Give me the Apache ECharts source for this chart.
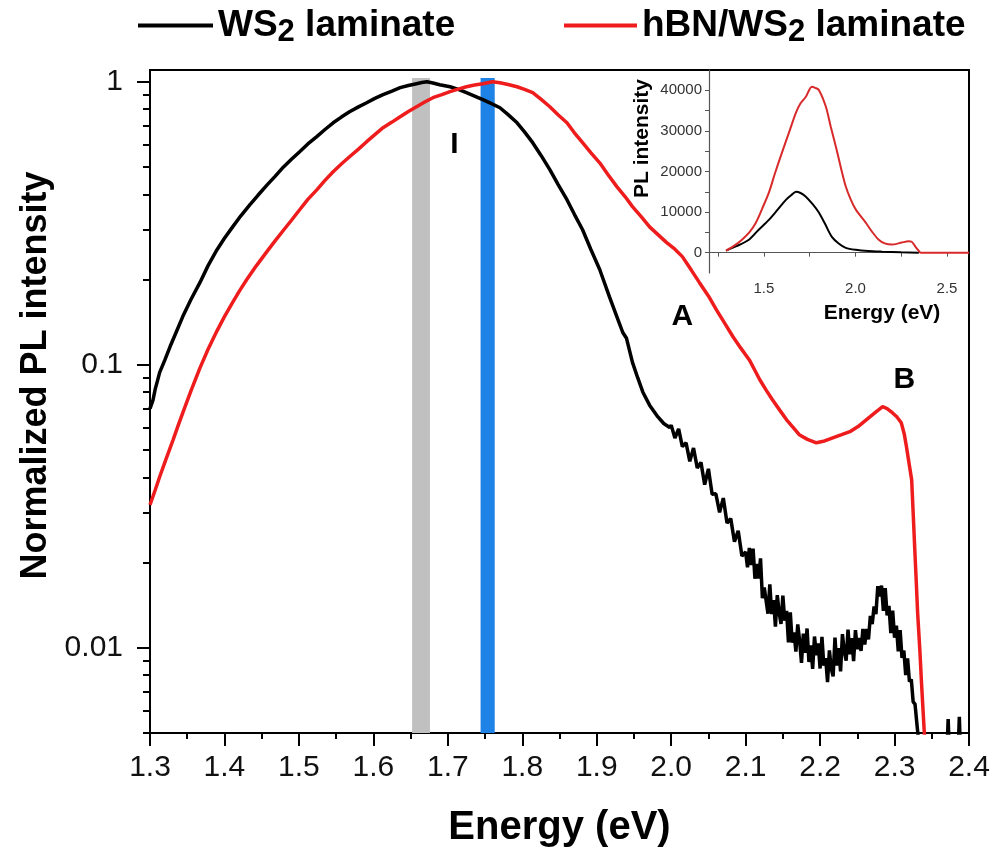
<!DOCTYPE html>
<html>
<head>
<meta charset="utf-8">
<script src="https://cdn.jsdelivr.net/npm/echarts@6/dist/echarts.min.js"></script>
<style>
  html, body { margin: 0; padding: 0; background: #fff; }
  #main { width: 996px; height: 857px; }
</style>
</head>
<body>
<div id="main"></div>
<script>
// main plot, WS2 laminate (black)
var wsE = [1.300,1.304,1.307,1.310,1.313,1.320,1.327,1.335,1.344,1.355,1.367,1.378,1.390,1.400,1.411,1.422,1.434,1.445,1.457,1.468,
  1.479,1.490,1.501,1.512,1.524,1.535,1.546,1.557,1.568,1.580,1.591,1.602,1.613,1.625,1.636,1.647,1.658,1.665,1.672,1.680,
  1.689,1.703,1.714,1.725,1.736,1.747,1.758,1.770,1.781,1.793,1.803,1.814,1.825,1.837,1.848,1.860,1.870,1.881,1.892,1.904,
  1.917,1.927,1.935,1.940,1.948,1.955,1.962,1.971,1.981,1.990,1.998,
  2.000,2.005,2.010,2.015,2.020,2.025,2.030,2.035,2.040,2.045,2.050,2.055,2.060,2.065,2.070,2.075,2.080,2.085,2.090,2.095,2.100,
  2.1025,2.105,2.1075,2.110,2.1125,2.115,2.1175,2.120,2.1225,2.125,2.1275,2.130,2.1325,2.135,2.1375,2.140,2.1425,2.145,2.1475,2.150,
  2.1525,2.155,2.1575,2.160,2.1625,2.165,2.1675,2.170,2.1725,2.175,2.1775,2.180,2.1825,2.185,2.1875,2.190,2.1925,2.195,2.1975,2.200,
  2.2025,2.205,2.2075,2.210,2.2125,2.215,2.2175,2.220,2.2225,2.225,2.2275,2.230,2.2325,2.235,2.2375,2.240,2.2425,2.245,2.2475,2.250,
  2.2525,2.255,2.2575,2.260,2.2625,2.265,2.2675,2.270,2.2725,2.275,2.2775,2.280,2.2825,2.285,2.2875,2.290,2.2925,2.295,2.2975,2.300,
  2.3025,2.305,2.3075,2.310,2.3125,2.315,2.3175,2.320,2.3225,2.325,2.3275,2.330,2.333,2.336,
  2.370,2.372,2.374,2.385,2.387,2.389,2.400];
var wsI = [0.070,0.075,0.082,0.0877,0.094,0.104,0.116,0.130,0.148,0.170,0.195,0.224,0.255,0.280,0.307,0.336,0.367,0.397,0.431,0.463,
  0.499,0.532,0.566,0.603,0.640,0.678,0.716,0.750,0.783,0.815,0.843,0.873,0.900,0.927,0.953,0.970,0.984,0.993,1.000,0.990,
  0.976,0.960,0.940,0.915,0.890,0.864,0.838,0.809,0.765,0.716,0.665,0.609,0.550,0.489,0.434,0.383,0.340,0.300,0.256,0.217,
  0.174,0.148,0.130,0.124,0.102,0.090,0.080,0.072,0.066,0.062,0.060,
  0.0612,0.0551,0.0594,0.0514,0.0530,0.0456,0.0508,0.0432,0.0452,0.0377,0.0429,0.0349,0.0350,0.0301,0.0338,0.0276,0.0286,0.0237,0.0259,0.0211,0.0218,
  0.01925,0.02255,0.01959,0.0224,0.01755,0.01976,0.01758,0.0207,0.01496,0.01632,0.01657,0.0132,0.01676,0.01316,0.01473,0.01187,0.01534,0.01333,0.01215,0.01528,
  0.01248,0.0135,0.01044,0.01334,0.01042,0.01133,0.0097,0.0121,0.0106,0.00884,0.01122,0.0096,0.0117,0.00891,0.01019,0.00843,0.01096,0.00941,0.01037,0.00845,
  0.01093,0.00865,0.0092,0.00756,0.00979,0.00845,0.00792,0.01086,0.00865,0.00998,0.00826,0.01117,0.0097,0.0090,0.0116,0.00949,0.01081,0.00898,0.01154,0.00988,
  0.01082,0.00975,0.01166,0.01027,0.01166,0.0107,0.01296,0.01213,0.01399,0.01316,0.0165,0.0152,0.01659,0.0135,0.01624,0.01302,0.01407,0.01126,0.01353,0.01086,
  0.01198,0.00972,0.01154,0.00921,0.00978,0.00801,0.00918,0.0076,0.00773,0.00644,0.00632,0.00539,0.0045,0.0040,
  0.0040,0.0056,0.0040,0.0040,0.0057,0.0040,0.0040];

// main plot, hBN/WS2 laminate (red)
var hbnE = [1.300,1.307,1.313,1.322,1.331,1.338,1.344,1.355,1.367,1.378,1.390,1.400,1.411,1.420,1.430,1.443,1.457,1.468,1.479,1.490,
  1.501,1.512,1.524,1.535,1.546,1.557,1.568,1.580,1.591,1.602,1.613,1.625,1.636,1.647,1.658,1.669,1.680,1.692,1.703,1.714,
  1.725,1.736,1.747,1.760,1.770,1.781,1.793,1.803,1.814,1.825,1.837,1.848,1.860,1.870,1.881,1.892,1.904,1.915,1.927,1.938,
  1.948,1.960,1.971,1.983,1.994,2.005,2.015,2.027,2.038,2.050,2.061,2.072,2.083,2.094,2.105,2.112,2.119,2.128,2.136,2.146,
  2.155,2.164,2.172,2.183,2.195,2.206,2.217,2.228,2.240,2.251,2.262,2.273,2.284,2.290,2.297,2.303,2.309,2.313,2.316,2.320,
  2.323,2.325,2.327,2.329,2.331,2.334,2.336,2.338,2.340,2.343];
var hbnI = [0.032,0.0361,0.0402,0.0468,0.0543,0.0612,0.0676,0.0809,0.0973,0.1135,0.1318,0.148,0.166,0.182,0.200,0.224,0.251,0.274,0.298,0.324,
  0.353,0.384,0.415,0.448,0.481,0.512,0.543,0.578,0.614,0.650,0.688,0.720,0.752,0.785,0.816,0.848,0.878,0.900,0.922,0.942,
  0.960,0.973,0.984,1.000,0.992,0.978,0.960,0.940,0.915,0.868,0.816,0.764,0.716,0.660,0.609,0.562,0.517,0.470,0.426,0.393,
  0.362,0.333,0.307,0.287,0.270,0.256,0.241,0.216,0.195,0.175,0.156,0.140,0.1256,0.114,0.104,0.096,0.0885,0.081,0.0752,0.069,
  0.0639,0.060,0.0566,0.0545,0.0530,0.0538,0.0552,0.0565,0.0580,0.0605,0.0639,0.0675,0.0711,0.0700,0.0677,0.0655,0.0624,0.0570,0.0513,0.0440,
  0.0392,0.0300,0.0228,0.0175,0.0133,0.0098,0.0077,0.0062,0.0050,0.0040];

// inset, linear PL intensity
var insWsE = [1.293,1.35,1.418,1.47,1.527,1.575,1.62,1.65,1.675,1.70,1.729,1.765,1.800,1.835,1.871,1.91,1.947,2.002,2.07,2.146,2.25,2.346];
var insWsI = [500,1600,3200,5600,8100,10600,13000,14200,15000,14700,13800,12000,9900,7000,3900,2200,1200,700,400,250,100,0];
var insHbnE = [1.293,1.34,1.38,1.42,1.456,1.49,1.527,1.56,1.598,1.64,1.675,1.70,1.729,1.762,1.780,1.800,1.838,1.865,1.893,1.92,
  1.947,1.975,2.002,2.056,2.09,2.127,2.16,2.198,2.253,2.290,2.307,2.327,2.345,2.357,2.62];
var insHbnI = [500,1800,3200,5000,7400,10800,14800,19500,24600,30000,34500,36800,38400,40900,40600,40100,36000,31000,26100,21000,
  16300,13000,10600,7400,5200,3200,2300,2000,2500,2800,2700,1500,500,0,0];

// highlighted energies (gray and blue bands) and peak labels
var grayBand = [1.652, 1.676];
var blueBand = [1.744, 1.763];
var peakNames = ['I', 'A', 'B'];
var peakPos = [[1.709, 0.60], [2.015, 0.148], [2.313, 0.0885]];

// tick values
var yMajor = [0.01, 0.1, 1];
var yMinor = [0.005,0.006,0.007,0.008,0.009,0.02,0.03,0.04,0.05,0.06,0.07,0.08,0.09,0.2,0.3,0.4,0.5,0.6,0.7,0.8,0.9];
var insXLabels = [1.5, 2.0, 2.5];
var insXTicks = [1.25, 1.5, 1.75, 2.0, 2.25, 2.5];
var insYLabels = [0, 10000, 20000, 30000, 40000];
var insYTicks = [0, 5000, 10000, 15000, 20000, 25000, 30000, 35000, 40000];

function zip(a, b) {
  var out = [];
  for (var i = 0; i < a.length; i++) out.push([a[i], b[i]]);
  return out;
}

var FONT = 'Liberation Sans, Arial, sans-serif';
var myChart = echarts.init(document.getElementById('main'));

var legendRich = {
  b: { fontSize: 37, fontWeight: 'bold', fontFamily: FONT, color: '#000' },
  s: { fontSize: 31, fontWeight: 'bold', fontFamily: FONT, color: '#000', verticalAlign: 'top', padding: [14, 0, 0, 0] }
};
function legendFmt(name) {
  if (name === 'WS2 laminate') return '{b|WS}{s|2}{b| laminate}';
  return '{b|hBN/WS}{s|2}{b| laminate}';
}

myChart.setOption({
  animation: false,
  backgroundColor: '#fff',
  legend: [{
    data: ['WS2 laminate'], left: 133, top: 2, icon: 'rect', itemWidth: 75, itemHeight: 4,
    formatter: legendFmt, textStyle: { rich: legendRich }
  }, {
    data: ['hBN/WS2 laminate'], left: 559, top: 2, icon: 'rect', itemWidth: 73, itemHeight: 4,
    formatter: legendFmt, textStyle: { rich: legendRich }
  }],
  grid: [
    { left: 150, right: 27, top: 70, bottom: 124, show: true, borderColor: '#000', borderWidth: 2 },
    { left: 709, right: 27, top: 70, bottom: 584 }
  ],
  xAxis: [{
    type: 'value', gridIndex: 0, min: 1.3, max: 2.4, interval: 0.1,
    axisLine: { lineStyle: { color: '#000', width: 2 } },
    axisTick: { length: 13, lineStyle: { color: '#000', width: 2 } },
    minorTick: { show: true, splitNumber: 2, length: 6, lineStyle: { color: '#000', width: 2 } },
    splitLine: { show: false },
    axisLabel: { fontSize: 30, color: '#111', margin: 20, fontFamily: FONT,
      formatter: function (v) { return v.toFixed(1); } },
    name: 'Energy (eV)', nameLocation: 'middle', nameGap: 75,
    nameTextStyle: { fontSize: 40, fontWeight: 'bold', color: '#000', fontFamily: FONT }
  }, {
    type: 'value', gridIndex: 1, min: 1.2, max: 2.62,
    axisLine: { lineStyle: { color: '#555', width: 1.2 } },
    axisTick: { customValues: insXTicks, length: 4, lineStyle: { color: '#555' } },
    splitLine: { show: false },
    axisLabel: { customValues: insXLabels, fontSize: 15, color: '#333', margin: 8, fontFamily: FONT,
      formatter: function (v) { return v.toFixed(1); } },
    name: 'Energy (eV)', nameLocation: 'middle', nameGap: 30,
    nameTextStyle: { fontSize: 21, fontWeight: 'bold', color: '#000', fontFamily: FONT, padding: [0, 0, 0, 86] }
  }],
  yAxis: [{
    type: 'log', logBase: 10, gridIndex: 0, min: 0.005, max: 1.1, position: 'left',
    axisLine: { show: true, lineStyle: { color: '#000', width: 2 } },
    axisTick: { show: true, customValues: yMajor, length: 13, lineStyle: { color: '#000', width: 2 } },
    splitLine: { show: false },
    axisLabel: { customValues: yMajor, fontSize: 30, color: '#111', margin: 27, fontFamily: FONT,
      formatter: function (v) { return String(+(+v).toPrecision(3)); } },
    name: 'Normalized PL intensity', nameLocation: 'middle', nameGap: 93,
    nameTextStyle: { fontSize: 36, fontWeight: 'bold', color: '#000', fontFamily: FONT, padding: [0, 0, 0, 52] }
  }, {
    type: 'log', logBase: 10, gridIndex: 0, min: 0.005, max: 1.1, position: 'left', offset: 0,
    axisLine: { show: false },
    axisTick: { show: true, customValues: yMinor, length: 7, lineStyle: { color: '#000', width: 2 } },
    axisLabel: { show: false },
    splitLine: { show: false }
  }, {
    type: 'value', gridIndex: 1, min: -5000, max: 45000,
    axisLine: { show: true, lineStyle: { color: '#555', width: 1.2 } },
    axisTick: { show: true, customValues: insYTicks, length: 4, lineStyle: { color: '#555' } },
    splitLine: { show: false },
    axisLabel: { customValues: insYLabels, fontSize: 15, color: '#333', margin: 7, fontFamily: FONT,
      formatter: function (v) { return String(v); } },
    name: 'PL intensity', nameLocation: 'middle', nameGap: 56,
    nameTextStyle: { fontSize: 21, fontWeight: 'bold', color: '#000', fontFamily: FONT, padding: [0, 0, 0, 66] }
  }],
  series: [{
    name: 'bands', type: 'line', xAxisIndex: 0, yAxisIndex: 0, data: [], z: 1,
    markArea: {
      silent: true,
      data: [
        [{ xAxis: grayBand[0], yAxis: 1.03, itemStyle: { color: '#c0c0c0' } }, { xAxis: grayBand[1], yAxis: 0.005 }],
        [{ xAxis: blueBand[0], yAxis: 1.03, itemStyle: { color: '#1f82e6' } }, { xAxis: blueBand[1], yAxis: 0.005 }]
      ]
    }
  }, {
    name: 'WS2 laminate', type: 'line', xAxisIndex: 0, yAxisIndex: 0, z: 3,
    data: zip(wsE, wsI), symbol: 'none', color: '#000',
    lineStyle: { width: 3.5, color: '#000' }
  }, {
    name: 'hBN/WS2 laminate', type: 'line', xAxisIndex: 0, yAxisIndex: 0, z: 4,
    data: zip(hbnE, hbnI), symbol: 'none', color: '#ee1c1c',
    lineStyle: { width: 3.5, color: '#ee1c1c' }
  }, {
    name: 'peaks', type: 'scatter', xAxisIndex: 0, yAxisIndex: 0, z: 5,
    symbolSize: 0, itemStyle: { color: '#000', opacity: 1 },
    data: peakNames.map(function (n, i) { return { name: n, value: peakPos[i] }; }),
    label: { show: true, position: 'inside', formatter: '{b}', fontSize: 30, fontWeight: 'bold',
      color: '#000', opacity: 1, fontFamily: FONT }
  }, {
    name: 'inset WS2', type: 'line', xAxisIndex: 1, yAxisIndex: 2, smooth: 0.3,
    data: zip(insWsE, insWsI), symbol: 'none', lineStyle: { width: 2, color: '#000' }
  }, {
    name: 'inset hBN', type: 'line', xAxisIndex: 1, yAxisIndex: 2, smooth: 0.3,
    data: zip(insHbnE, insHbnI), symbol: 'none', lineStyle: { width: 2, color: '#d82a2a' }
  }]
});
</script>
</body>
</html>
